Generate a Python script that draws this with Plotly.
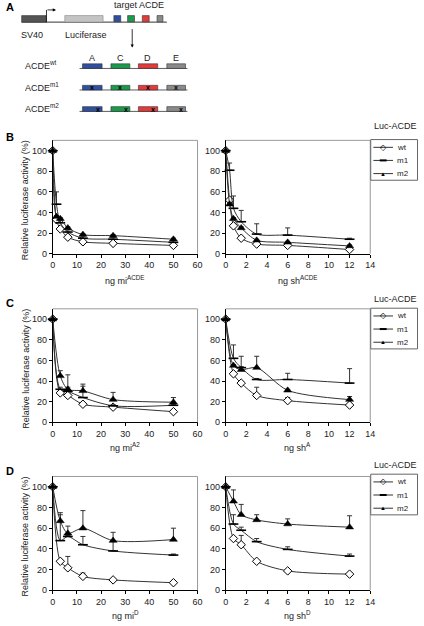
import plotly.graph_objects as go

W, H = 424, 626
FONT = "Liberation Sans, Arial, sans-serif"

# ---------------- data ----------------
x_mi_B = [0, 1.5625, 3.125, 6.25, 12.5, 25, 50]
wt_mi_B = [100, 33, 24, 16, 11.5, 10, 8]
m1_mi_B = [100, 48, 30, 21, 15, 14, 11]
m2_mi_B = [100, 36, 34, 25, 18.5, 17.5, 14]
e_wt_mi_B = [0, 1, 1, 1, 1, 1, 1]
e_m1_mi_B = [0, 12, 2, 2, 2, 2, 2]
e_m2_mi_B = [0, 1, 1, 1, 1, 1, 1]

x_sh_B = [0, 0.375, 0.75, 1.5, 3, 6, 12]
wt_sh_B = [100, 52, 27, 15, 9.3, 8, 4]
m1_sh_B = [100, 81, 44, 31, 19, 18, 14]
m2_sh_B = [100, 48, 34, 25, 13, 11, 7.5]
e_wt_sh_B = [0, 1, 1, 1, 1, 1, 1]
e_m1_sh_B = [0, 7, 12, 11, 10, 7, 1]
e_m2_sh_B = [0, 1, 1, 1, 1, 1, 1]

x_mi_C = [0, 3.125, 6.25, 12.5, 25, 50]
wt_mi_C = [100, 28.5, 26, 17.5, 14.7, 10.3]
m1_mi_C = [100, 32, 30, 24, 16, 16.5]
m2_mi_C = [100, 45, 32, 30.5, 22, 19.5]
e_wt_mi_C = [0, 1, 1, 1, 1, 1]
e_m1_mi_C = [0, 2, 16, 11, 1, 1]
e_m2_mi_C = [0, 5, 2, 6.5, 7, 4.5]

x_sh_C = [0, 0.75, 1.5, 3, 6, 12]
wt_sh_C = [100, 47, 38, 26, 21, 16.7]
m1_sh_C = [100, 62, 53, 41.5, 41.5, 38]
m2_sh_C = [100, 55, 51, 53, 31, 22]
e_wt_sh_C = [0, 1, 1, 8, 3, 1]
e_m1_sh_C = [0, 13, 1, 1, 6, 14]
e_m2_sh_C = [0, 1, 13, 11, 1, 3]

x_mi_D = [0, 3.125, 6.25, 12.5, 25, 50]
wt_mi_D = [100, 28, 21.7, 13.4, 10, 7.3]
m1_mi_D = [100, 48, 52, 44, 38, 34]
m2_mi_D = [100, 67, 55, 60, 48, 49]
e_wt_mi_D = [0, 1, 11, 3.2, 1, 1]
e_m1_mi_D = [0, 25, 1, 8, 10, 1]
e_m2_mi_D = [0, 8, 7, 17, 8, 11]

x_sh_D = [0, 0.75, 1.5, 3, 6, 12]
wt_sh_D = [100, 50, 44, 28, 18.7, 15.6]
m1_sh_D = [100, 64, 58, 47, 39.5, 33]
m2_sh_D = [100, 86, 73, 68, 64, 61]
e_wt_sh_D = [0, 1, 9, 1, 1, 1.5]
e_m1_sh_D = [0, 9, 3, 3, 2.5, 2]
e_m2_sh_D = [0, 11, 10, 5, 5, 11]

series_names = ["wt", "m1", "m2"]
x_titles = ["ng mi<sup>ACDE</sup>", "ng sh<sup>ACDE</sup>",
            "ng mi<sup>A2</sup>", "ng sh<sup>A</sup>",
            "ng mi<sup>D</sup>", "ng sh<sup>D</sup>"]

panels = [
    (x_mi_B, [wt_mi_B, m1_mi_B, m2_mi_B], [e_wt_mi_B, e_m1_mi_B, e_m2_mi_B]),
    (x_sh_B, [wt_sh_B, m1_sh_B, m2_sh_B], [e_wt_sh_B, e_m1_sh_B, e_m2_sh_B]),
    (x_mi_C, [wt_mi_C, m1_mi_C, m2_mi_C], [e_wt_mi_C, e_m1_mi_C, e_m2_mi_C]),
    (x_sh_C, [wt_sh_C, m1_sh_C, m2_sh_C], [e_wt_sh_C, e_m1_sh_C, e_m2_sh_C]),
    (x_mi_D, [wt_mi_D, m1_mi_D, m2_mi_D], [e_wt_mi_D, e_m1_mi_D, e_m2_mi_D]),
    (x_sh_D, [wt_sh_D, m1_sh_D, m2_sh_D], [e_wt_sh_D, e_m1_sh_D, e_m2_sh_D]),
]

# ---------------- layout helpers ----------------
def px(x):
    return x / W

def py(y):
    return 1 - y / H

rows = [(141.5, 255.7), (311.3, 425.7), (480.3, 595.0)]
cols = [(50.7, 198.3, 60, 10), (227.0, 374.3, 14, 2)]
xtitle_y = [282.7, 451.0, 620.0]
letter_y = [138, 305, 475]
luc_y = [127.3, 301.7, 469]
legend_top = [140.7, 310.7, 478]

styles = [
    dict(symbol="diamond", size=6.5, color="white", line=dict(width=1, color="black")),
    dict(symbol="line-ew", size=7, color="black", line=dict(width=1.6, color="black")),
    dict(symbol="triangle-up", size=7, color="black", line=dict(width=0.5, color="black")),
]

fig = go.Figure()
layout = dict(
    width=W, height=H, margin=dict(l=0, r=0, t=0, b=0),
    paper_bgcolor="white", plot_bgcolor="white",
    font=dict(family=FONT, size=9, color="#222"),
    showlegend=False,
)
shapes = []
annotations = []

def rect(x0, x1, y0, y1, fill, line="#333", w=0.6):
    shapes.append(dict(type="rect", xref="paper", yref="paper", x0=px(x0), x1=px(x1),
                       y0=py(y1), y1=py(y0), fillcolor=fill, line=dict(color=line, width=w)))

def hline(x0, x1, y, color="#333", w=1):
    shapes.append(dict(type="line", xref="paper", yref="paper", x0=px(x0), x1=px(x1),
                       y0=py(y), y1=py(y), line=dict(color=color, width=w)))

def text(t, x, y, size=9, anchor="center", color="#222"):
    annotations.append(dict(text=t, xref="paper", yref="paper", x=px(x), y=py(y), showarrow=False,
                            xanchor=anchor, yanchor="middle", font=dict(size=size, family=FONT, color=color)))

for i, (xs, ys, es) in enumerate(panels):
    r, c = divmod(i, 2)
    top, bot = rows[r]
    x0, x1, xmax, dt = cols[c]
    n = i + 1
    xa = "xaxis" if n == 1 else f"xaxis{n}"
    ya = "yaxis" if n == 1 else f"yaxis{n}"
    xr = "x" if n == 1 else f"x{n}"
    yr = "y" if n == 1 else f"y{n}"
    layout[xa] = dict(domain=[px(x0), px(x1)], range=[0, xmax], dtick=dt, anchor=yr,
                      showgrid=False, zeroline=False, showline=True, linecolor="black",
                      linewidth=1, ticks="outside", ticklen=3, tickcolor="black",
                      tickfont=dict(size=9, family=FONT, color="#222"))
    layout[ya] = dict(domain=[py(bot), py(top)], range=[0, 110], tickvals=[0, 20, 40, 60, 80, 100],
                      anchor=xr, showgrid=False, zeroline=False, showline=True, linecolor="black",
                      linewidth=1, ticks="outside", ticklen=3, tickcolor="black",
                      tickfont=dict(size=9, family=FONT, color="#222"))
    shapes.append(dict(type="line", xref=f"{xr} domain", yref=f"{yr} domain", x0=0, x1=1, y0=1, y1=1,
                       line=dict(color="#999", width=1)))
    shapes.append(dict(type="line", xref=f"{xr} domain", yref=f"{yr} domain", x0=1, x1=1, y0=0, y1=1,
                       line=dict(color="#999", width=1)))
    for k in range(3):
        fig.add_trace(go.Scatter(
            x=xs, y=ys[k], mode="lines+markers", name=series_names[k],
            line=dict(color="#333", width=1, shape="spline", smoothing=0.8),
            marker=styles[k], cliponaxis=False,
            error_y=dict(type="data", symmetric=False, array=es[k], arrayminus=[0] * len(xs),
                         color="#333", thickness=1, width=2.5),
            xaxis=xr, yaxis=yr,
        ))
    text(x_titles[i], (x0 + x1) / 2, xtitle_y[r])

legend_symbols = ["\u25C7", None, "\u25B2"]
for r in range(3):
    top, bot = rows[r]
    annotations.append(dict(text="Relative luciferase activity (%)", xref="paper", yref="paper",
                            x=px(22.7), y=py((top + bot) / 2 + 3), textangle=-90, showarrow=False,
                            xanchor="center", yanchor="middle", font=dict(size=9, family=FONT, color="#222")))
    annotations.append(dict(text="<b>" + "BCD"[r] + "</b>", xref="paper", yref="paper",
                            x=px(1), y=py(letter_y[r]), showarrow=False, xanchor="left", yanchor="middle",
                            font=dict(size=11, family=FONT, color="black")))
    text("Luc-ACDE", 423.5, luc_y[r], anchor="right")
    lt = legend_top[r]
    rect(374.8, 422.5, lt, lt + 41, "white", "#666", 1)
    for k, dy in enumerate([7.8, 21.0, 34.3]):
        yy = lt + dy
        hline(377.5, 397.5, yy, "#333", 1)
        if legend_symbols[k] is None:
            hline(384, 391, yy, "black", 2)
        else:
            text(legend_symbols[k], 387.5, yy, size=(8 if k == 0 else 6), color="black")
        text(series_names[k], 399.5, yy, size=8, anchor="left")

# ---------------- panel A schematic ----------------
annotations.append(dict(text="<b>A</b>", xref="paper", yref="paper", x=px(1), y=py(7),
                        showarrow=False, xanchor="left", yanchor="middle",
                        font=dict(size=11, family=FONT, color="black")))

BLUE, GREEN, RED, GRAY = "#2f4f9f", "#1b9a4b", "#e23b3b", "#8a8a8a"

hline(19, 167, 22.3)
rect(19, 44, 15.7, 22.3, "#555555")
rect(63, 102, 15.7, 22.3, "#c4c4c4", "#888")
rect(113, 120, 15.7, 22.0, BLUE)
rect(127, 134, 15.7, 22.0, GREEN)
rect(142, 149, 15.7, 22.0, RED)
rect(157, 163, 15.7, 22.0, GRAY)
shapes.append(dict(type="line", xref="paper", yref="paper", x0=px(44.3), x1=px(44.3),
                   y0=py(22.3), y1=py(10), line=dict(color="black", width=0.8)))
annotations.append(dict(x=px(54), y=py(10), ax=-10, ay=0, xref="paper", yref="paper",
                        axref="pixel", ayref="pixel", showarrow=True, arrowhead=2, arrowsize=0.8,
                        arrowwidth=0.8, arrowcolor="black", text=""))
annotations.append(dict(x=px(131.7), y=py(48), ax=0, ay=-20, xref="paper", yref="paper",
                        axref="pixel", ayref="pixel", showarrow=True, arrowhead=2, arrowsize=0.8,
                        arrowwidth=0.8, arrowcolor="black", text=""))
text("target ACDE", 139, 5)
text("SV40", 30, 35)
text("Luciferase", 85, 35)
for lab, xc in zip(["A", "C", "D", "E"], [90.7, 119.3, 147.7, 176.7]):
    text(lab, xc, 58)

box_x = [(81, 101, BLUE), (110, 129.3, GREEN), (138, 157.7, RED), (167, 186, GRAY)]
row_specs = [("wt", 64.3, 69.0, None), ("m1", 86.0, 90.7, 0.5), ("m2", 107.5, 112.3, 0.78)]
for sup, y0, y1, mpos in row_specs:
    hline(78, 188, y1, "#333", 0.8)
    for bx0, bx1, col in box_x:
        rect(bx0, bx1, y0, y1, col)
        if mpos is not None:
            annotations.append(dict(text="<b>x</b>", xref="paper", yref="paper",
                                    x=px(bx0 + (bx1 - bx0) * mpos), y=py((y0 + y1) / 2),
                                    showarrow=False, xanchor="center", yanchor="middle",
                                    font=dict(size=7, family=FONT, color="black")))
    text("ACDE<sup>" + sup + "</sup>", 20.5, (y0 + y1) / 2 - 1, size=9, anchor="left")

layout["shapes"] = shapes
layout["annotations"] = annotations
fig.update_layout(**layout)
fig.write_html("out.html", config={"displayModeBar": False},
               post_script="document.body.style.margin='0px';")
